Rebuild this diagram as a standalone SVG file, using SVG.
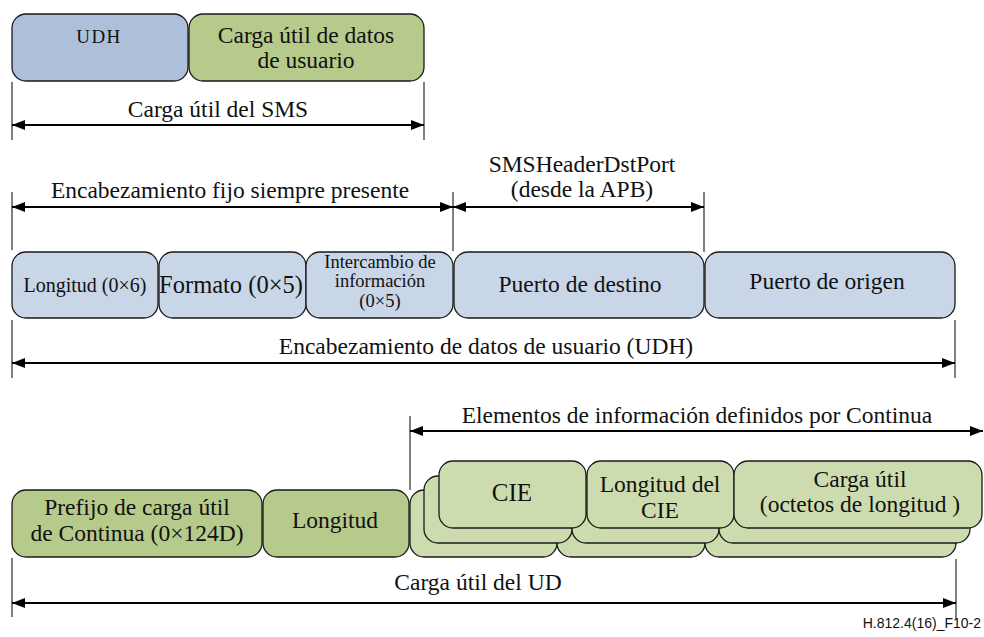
<svg xmlns="http://www.w3.org/2000/svg" width="984" height="637" viewBox="0 0 984 637">
  <defs>
    <marker id="arrow" viewBox="0 0 13 10" refX="13" refY="5" markerWidth="13" markerHeight="10" markerUnits="userSpaceOnUse" orient="auto-start-reverse">
      <path d="M0,0 L13,5 L0,10 z" fill="#000"/>
    </marker>
  </defs>
  <style>
    .t { font-family: 'Liberation Serif', 'Times New Roman', serif; fill: #111; text-anchor: middle; }
    .box { stroke: #1a1a1a; stroke-width: 1.3; }
    .blueDark { fill: #adbfd9; }
    .blueLight { fill: #c9d6e8; }
    .greenDark { fill: #b6ca8b; }
    .greenLight { fill: #cddcae; }
    .lbl { font-size: 23.5px; }
    .sm { font-size: 18.5px; }
    .dim { stroke: #000; stroke-width: 2; fill: none; marker-start: url(#arrow); marker-end: url(#arrow); }
    .tick { stroke: #000; stroke-width: 1; }
    .ref { font-family: 'Liberation Sans', Arial, sans-serif; font-size: 14px; text-anchor: end; fill: #111; }
  </style>

  <!-- SMS payload -->
  <g id="sms-udh">
    <rect class="box blueDark" x="12" y="14" width="176" height="67" rx="14"/>
    <text class="t" x="99" y="43" font-size="19" letter-spacing="1.5">UDH</text>
  </g>
  <g id="sms-user-data">
    <rect class="box greenDark" x="189" y="14" width="235" height="67" rx="14"/>
    <text class="t lbl" x="306" y="43">Carga útil de datos</text>
    <text class="t lbl" x="306" y="68">de usuario</text>
  </g>

  <!-- UDH fields -->
  <g id="udh-length">
    <rect class="box blueLight" x="12" y="252" width="146" height="66" rx="14"/>
    <text class="t" x="85" y="292" font-size="20">Longitud  (0×6)</text>
  </g>
  <g id="udh-format">
    <rect class="box blueLight" x="159" y="252" width="147" height="66" rx="14"/>
    <text class="t" x="231" y="293" font-size="24.5">Formato (0×5)</text>
  </g>
  <g id="udh-iei">
    <rect class="box blueLight" x="306" y="252" width="147" height="66" rx="14"/>
    <text class="t sm" x="380" y="268">Intercambio de</text>
    <text class="t sm" x="380" y="287">información</text>
    <text class="t sm" x="380" y="307">(0×5)</text>
  </g>
  <g id="udh-dst-port">
    <rect class="box blueLight" x="454" y="252" width="250" height="66" rx="14"/>
    <text class="t lbl" x="580" y="292">Puerto de destino</text>
  </g>
  <g id="udh-src-port">
    <rect class="box blueLight" x="705" y="252" width="250" height="66" rx="14"/>
    <text class="t lbl" x="827" y="289">Puerto de origen</text>
  </g>

  <!-- UD payload -->
  <g id="ud-prefix">
    <rect class="box greenDark" x="12" y="490" width="250" height="67" rx="14"/>
    <text class="t lbl" x="137" y="515">Prefijo de carga útil</text>
    <text class="t lbl" x="137" y="541">de Continua (0×124D)</text>
  </g>
  <g id="ud-length">
    <rect class="box greenDark" x="263" y="490" width="146" height="67" rx="14"/>
    <text class="t lbl" x="335" y="528">Longitud</text>
  </g>

  <!-- repeated Continua information elements (stacked) -->
  <g id="ie-back">
    <rect class="box greenLight" x="410" y="490" width="147" height="67" rx="14"/>
    <rect class="box greenLight" x="557" y="490" width="148" height="67" rx="14"/>
    <rect class="box greenLight" x="705" y="490" width="251" height="67" rx="14"/>
  </g>
  <g id="ie-middle">
    <rect class="box greenLight" x="424" y="476" width="148" height="67" rx="14"/>
    <rect class="box greenLight" x="572" y="476" width="147" height="67" rx="14"/>
    <rect class="box greenLight" x="719" y="476" width="251" height="67" rx="14"/>
  </g>
  <g id="ie-cie">
    <rect class="box greenLight" x="439" y="461" width="147" height="67" rx="14"/>
    <text class="t" x="512" y="501" font-size="25">CIE</text>
  </g>
  <g id="ie-cie-length">
    <rect class="box greenLight" x="587" y="461" width="147" height="67" rx="14"/>
    <text class="t lbl" x="660" y="492">Longitud del</text>
    <text class="t lbl" x="660" y="518">CIE</text>
  </g>
  <g id="ie-payload">
    <rect class="box greenLight" x="734" y="461" width="248" height="67" rx="14"/>
    <text class="t lbl" x="860" y="487">Carga útil</text>
    <text class="t lbl" x="860" y="512">(octetos de longitud )</text>
  </g>

  <!-- dimension lines -->
  <g id="connectors">
    <line class="tick" x1="12" y1="82" x2="12" y2="140"/>
    <line class="tick" x1="424" y1="82" x2="424" y2="140"/>
    <line class="dim" x1="12" y1="125" x2="424" y2="125"/>

    <line class="tick" x1="12" y1="192" x2="12" y2="250"/>
    <line class="tick" x1="453" y1="192" x2="453" y2="251"/>
    <line class="tick" x1="704" y1="192" x2="704" y2="252"/>
    <line class="dim" x1="12" y1="207" x2="453" y2="207"/>
    <line class="dim" x1="453" y1="207" x2="704" y2="207"/>

    <line class="tick" x1="12" y1="320" x2="12" y2="378"/>
    <line class="tick" x1="955" y1="320" x2="955" y2="378"/>
    <line class="dim" x1="12" y1="363" x2="955" y2="363"/>

    <line class="tick" x1="410" y1="416" x2="410" y2="490"/>
    <line class="dim" x1="410" y1="431" x2="983" y2="431"/>

    <line class="tick" x1="12" y1="558" x2="12" y2="617"/>
    <line class="tick" x1="956" y1="559" x2="956" y2="620"/>
    <line class="dim" x1="12" y1="603" x2="956" y2="603"/>
  </g>

  <!-- dimension labels -->
  <g id="labels">
    <text class="t lbl" x="218" y="117">Carga útil del SMS</text>
    <text class="t lbl" x="230" y="198">Encabezamiento fijo siempre presente</text>
    <text class="t lbl" x="582" y="172">SMSHeaderDstPort</text>
    <text class="t lbl" x="582" y="197">(desde la APB)</text>
    <text class="t lbl" x="486" y="354">Encabezamiento de datos de usuario  (UDH)</text>
    <text class="t lbl" x="697" y="423">Elementos de información definidos por  Continua</text>
    <text class="t lbl" x="478" y="590">Carga útil del UD</text>
    <text class="ref" x="981" y="628">H.812.4(16)_F10-2</text>
  </g>
</svg>
